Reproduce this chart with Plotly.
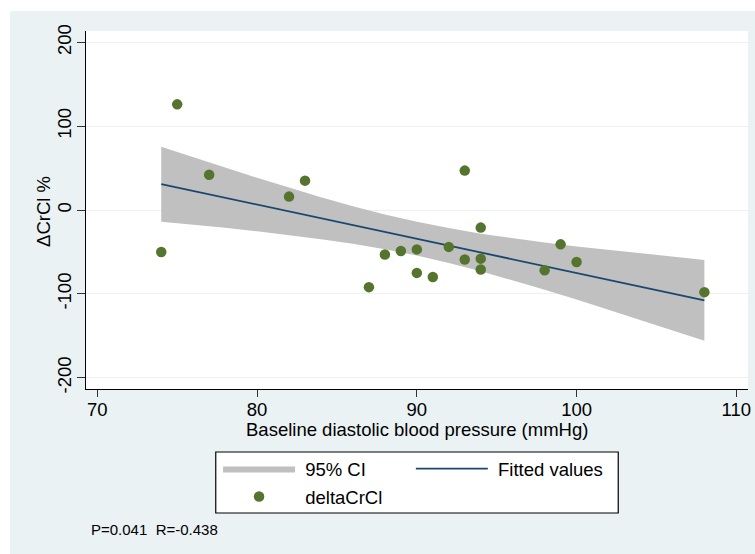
import plotly.graph_objects as go

# ---- data ----
dbp = [74, 75, 77, 82, 83, 87, 88, 89, 90, 90, 91, 92, 93, 93, 94, 94, 94, 98, 99, 100, 108]
delta_crcl = [-50, 126, 42, 16, 35, -92, -53, -49, -47, -75, -80, -44, 47, -59, -21, -58, -71, -72, -41, -62, -98]

fit_x = [74, 108]
fit_y = [31, -107.8]

ci_x = [74, 76, 78, 80, 82, 84, 86, 88, 90, 92, 94, 96, 98, 100, 102, 104, 106, 108]
ci_upper = [75.5, 62.8, 50.6, 38.4, 26.7, 15.3, 4.6, -5.3, -14.0, -21.6, -28.2, -33.8, -38.8, -43.4, -47.5, -51.6, -55.5, -59.5]
ci_lower = [-14.0, -17.2, -21.2, -25.4, -29.9, -34.9, -40.4, -46.9, -54.4, -63.2, -73.0, -83.6, -95.0, -106.8, -118.9, -131.2, -143.7, -156.0]

x_ticks = [70, 80, 90, 100, 110]
y_ticks = [-200, -100, 0, 100, 200]
y_tick_labels = ["-200", "-100", "0", "100", "200"]

x_title = "Baseline diastolic blood pressure (mmHg)"
y_title = "ΔCrCl %"
note = "P=0.041\u00a0\u00a0R=-0.438"

# ---- styling ----
BG = "#EAF2F3"
GREEN = "#55752F"
NAVY = "#1A476F"
CI_GRAY = "#C0C0C0"
FONT = "Liberation Sans, Arial, sans-serif"
FS = 18.5

W, H = 755, 554
# plot area in window pixels
PL, PR, PT, PB = 86, 747.7, 31, 389
ML, MR, MT, MB = PL, W - PR, PT, H - PB
PW, PH = PR - PL, PB - PT


def px_x(p):
    return (p - PL) / PW


def px_y(p):
    return (PB - p) / PH


fig = go.Figure()

fig.add_trace(go.Scatter(
    x=ci_x, y=ci_lower, mode="lines", line=dict(width=0, color=CI_GRAY),
    showlegend=False, hoverinfo="skip"))
fig.add_trace(go.Scatter(
    x=ci_x, y=ci_upper, mode="lines", line=dict(width=0, color=CI_GRAY),
    fill="tonexty", fillcolor=CI_GRAY, name="\u00a095% CI", legend="legend"))
fig.add_trace(go.Scatter(
    x=fit_x, y=fit_y, mode="lines", line=dict(width=1.8, color=NAVY),
    name="\u00a0Fitted values", legend="legend3"))
fig.add_trace(go.Scatter(
    x=dbp, y=delta_crcl, mode="markers",
    marker=dict(size=10.5, color=GREEN, line=dict(width=0)),
    name="\u00a0deltaCrCl", legend="legend2"))

leg_common = dict(
    orientation="v", xanchor="left", yanchor="middle",
    bgcolor="rgba(0,0,0,0)", borderwidth=0, itemwidth=72,
    font=dict(family=FONT, size=FS, color="black"),
)

fig.update_layout(
    width=W, height=H,
    margin=dict(l=ML, r=MR, t=MT, b=MB, autoexpand=False),
    paper_bgcolor=BG, plot_bgcolor="white",
    font=dict(family=FONT, size=FS, color="black"),
    legend=dict(x=px_x(218), y=px_y(469), **leg_common),
    legend2=dict(x=px_x(218), y=px_y(497), **leg_common),
    legend3=dict(x=px_x(410.7), y=px_y(469), **leg_common),
    xaxis=dict(
        range=[69.29, 110.73], tickvals=x_ticks, showgrid=False, zeroline=False,
        showline=True, linecolor="black", linewidth=1.2,
        ticks="outside", ticklen=7, tickwidth=1.2, tickcolor="#333333",
        ticklabelstandoff=-3,
        tickfont=dict(size=FS, color="black"),
    ),
    yaxis=dict(
        range=[-213.5, 213.5], tickvals=y_ticks, ticktext=y_tick_labels,
        showgrid=True, gridcolor=BG, gridwidth=1.2, zeroline=False,
        showline=True, linecolor="black", linewidth=1.2,
        ticks="outside", ticklen=8, tickwidth=1.2, tickcolor="#333333",
        ticklabelstandoff=-1,
        tickangle=-90, tickfont=dict(size=FS, color="black"),
    ),
    shapes=[
        # white page strips (top and left) outside the grey background
        dict(type="rect", xref="paper", yref="paper", layer="below",
             x0=px_x(-5), x1=px_x(760), y0=px_y(11), y1=px_y(-5),
             fillcolor="white", line=dict(width=0)),
        dict(type="rect", xref="paper", yref="paper", layer="below",
             x0=px_x(-5), x1=px_x(10), y0=px_y(560), y1=px_y(-5),
             fillcolor="white", line=dict(width=0)),
        # legend frame
        dict(type="rect", xref="paper", yref="paper", layer="below",
             x0=px_x(215.7), x1=px_x(618), y0=px_y(513), y1=px_y(452),
             fillcolor="white", line=dict(width=1.2, color="black")),
    ],
    annotations=[
        dict(text=x_title, xref="paper", yref="paper", x=0.5, y=px_y(429),
             xanchor="center", yanchor="middle", showarrow=False,
             font=dict(size=FS, color="black")),
        dict(text=y_title, xref="paper", yref="paper", x=px_x(43), y=px_y(211),
             xanchor="center", yanchor="middle", textangle=-90, showarrow=False,
             font=dict(size=FS, color="black")),
        dict(text=note, xref="paper", yref="paper", x=px_x(89), y=px_y(529.3),
             xanchor="left", yanchor="middle", showarrow=False,
             font=dict(size=15, color="black")),
    ],
)

fig.write_html(
    "out.html",
    config={"displayModeBar": False},
    post_script="document.body.style.margin='0';document.body.style.overflow='hidden';",
)
